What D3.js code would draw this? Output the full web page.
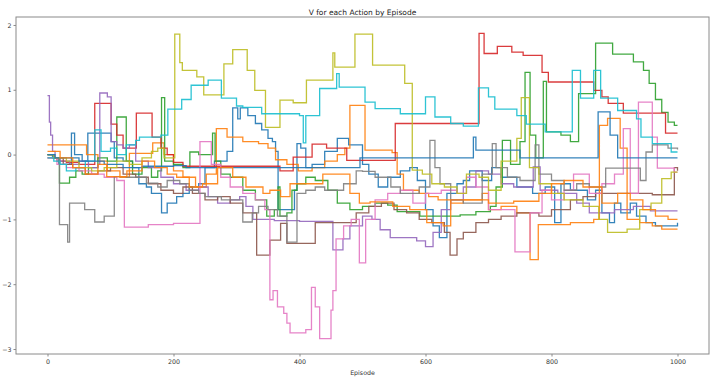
<!DOCTYPE html>
<html>
<head>
<meta charset="utf-8">
<script src="https://cdn.jsdelivr.net/npm/d3@7"></script>
<style>
  html, body { margin: 0; padding: 0; background: #fff; }
  svg { display: block; }
</style>
</head>
<body>
<svg id="chart" width="720" height="380"></svg>
<script>
// ---- data: [episode, V] breakpoints (value holds until next breakpoint) ----
const title = "V for each Action by Episode";
const xLabel = "Episode";
const xTicks = [0, 200, 400, 600, 800, 1000];
const yTicks = [-3, -2, -1, 0, 1, 2];

const actionBlue = [[0,0.0],[8,-0.05],[18,-0.15],[38,0.33],[43,0.0],[55,-0.1],[64,0.33],[101,0.2],[106,-0.05],[120,-0.1],[135,-0.2],[145,-0.45],[157,-0.5],[165,-0.6],[181,-0.9],[190,-0.75],[205,-0.65],[215,-0.6],[225,-0.5],[240,-0.45],[250,-0.2],[265,-0.1],[285,0.05],[294,0.72],[302,0.55],[306,0.72],[318,0.6],[330,0.48],[340,0.38],[350,0.25],[357,0.2],[362,0.05],[366,-0.85],[380,-0.85],[392,-0.55],[396,0.17],[402,0.1],[410,-0.2],[420,-0.15],[440,0.05],[460,0.25],[478,0.15],[500,-0.15],[510,-0.3],[525,-0.5],[540,-0.35],[560,-0.25],[575,-0.2],[587,-0.4],[600,-0.85],[612,-1.1],[622,-1.28],[634,-0.6],[650,-0.45],[660,-0.4],[670,-0.25],[690,-0.4],[705,-0.2],[720,-0.35],[745,-0.5],[770,-0.6],[790,-0.5],[805,-1.05],[815,-0.45],[830,-0.55],[857,-0.7],[870,-0.55],[880,-0.9],[892,-1.05],[900,-0.75],[910,-0.9],[925,-0.75],[935,-0.95],[950,-1.05],[965,-1.1],[1000,-1.05]];
const actionOrange = [[0,0.15],[62,0.0],[80,-0.1],[95,-0.25],[115,-0.35],[130,0.02],[167,0.18],[185,0.0],[200,-0.25],[215,-0.35],[235,-0.5],[252,-0.3],[268,0.4],[285,0.27],[310,0.2],[335,0.17],[350,0.1],[362,-0.08],[380,-0.15],[398,-0.25],[420,-0.2],[440,-0.1],[460,0.0],[472,0.1],[480,0.76],[504,0.07],[547,0.03],[555,-0.3],[565,-0.55],[590,-0.6],[605,-0.65],[620,-0.7],[640,-0.75],[660,-0.7],[690,-0.6],[700,-0.85],[720,-0.8],[745,-0.9],[766,-1.62],[779,-1.08],[830,-1.05],[867,-1.0],[876,0.45],[889,0.56],[909,0.1],[920,-1.0],[940,-1.05],[960,-1.1],[975,-1.15],[1000,-1.15]];
const actionGreen = [[0,0.0],[10,-0.05],[19,-0.44],[35,-0.35],[45,-0.25],[55,-0.3],[65,-0.2],[80,-0.05],[95,-0.1],[110,0.58],[125,-0.1],[135,-0.3],[150,-0.2],[165,-0.35],[175,-0.25],[181,0.88],[186,-0.1],[200,-0.15],[215,-0.2],[226,0.04],[240,0.0],[262,0.33],[266,-0.1],[275,-0.3],[290,-0.35],[310,-0.55],[330,-0.7],[348,-0.95],[360,-0.85],[366,-0.5],[369,-0.95],[380,-0.9],[388,-0.55],[396,-0.45],[410,-0.35],[425,-0.4],[445,-0.55],[460,-0.75],[480,-0.85],[500,-0.8],[520,-0.75],[540,-0.78],[555,-0.88],[591,-0.95],[655,-0.93],[680,-0.88],[703,-0.8],[712,-0.5],[722,0.22],[735,-0.15],[750,0.2],[758,1.27],[766,0.3],[775,-0.05],[787,1.13],[792,0.35],[815,0.3],[830,0.2],[843,0.94],[870,1.72],[897,1.55],[930,1.43],[946,1.3],[955,1.1],[965,0.85],[975,0.65],[985,0.5],[995,0.45],[1000,0.45]];
const actionRed = [[0,-0.05],[15,-0.1],[30,-0.12],[50,-0.15],[75,0.79],[101,0.47],[110,0.3],[120,0.1],[141,0.64],[166,0.27],[180,0.1],[190,0.0],[200,-0.12],[215,-0.18],[369,-0.25],[390,-0.04],[420,0.16],[443,0.1],[475,-0.09],[552,0.48],[685,1.87],[693,1.56],[714,1.67],[737,1.58],[755,1.53],[785,1.27],[795,1.12],[867,0.99],[880,0.89],[890,0.79],[914,0.64],[981,0.33],[1000,0.33]];
const actionPurple = [[0,0.91],[3,0.5],[5,0.3],[8,0.05],[12,-0.05],[20,-0.1],[35,-0.15],[50,-0.1],[65,-0.2],[80,-0.15],[83,0.95],[95,0.89],[101,0.2],[110,0.15],[120,0.1],[130,0.15],[140,-0.1],[160,-0.2],[180,-0.35],[200,-0.45],[220,-0.55],[240,-0.5],[255,-0.65],[270,-0.75],[290,-0.7],[305,-0.65],[315,-0.8],[326,-1.0],[360,-1.02],[400,-1.03],[453,-1.47],[469,-1.3],[480,-1.1],[500,-0.95],[515,-1.0],[528,-1.16],[544,-1.28],[586,-1.33],[600,-1.42],[612,-1.2],[625,-0.85],[640,-0.7],[660,-0.5],[680,-0.25],[700,-0.3],[720,-0.45],[740,-0.5],[771,-0.19],[782,-0.55],[810,-0.6],[840,-0.75],[860,-0.9],[900,-0.85],[930,-0.8],[957,-0.87],[1000,-0.87]];
const actionBrown = [[0,0.0],[10,-0.05],[25,-0.15],[40,-0.2],[60,-0.3],[80,-0.25],[100,-0.2],[120,-0.3],[140,-0.35],[160,-0.45],[180,-0.55],[200,-0.6],[215,-0.5],[230,-0.6],[250,-0.7],[270,-0.65],[290,-0.75],[310,-0.9],[332,-1.55],[353,-1.32],[370,-1.06],[380,-1.37],[417,-1.37],[425,-1.05],[480,-1.05],[490,-0.9],[510,-0.8],[530,-0.75],[550,-0.85],[570,-0.9],[590,-1.0],[610,-1.05],[630,-1.2],[639,-1.55],[650,-1.3],[660,-1.2],[680,-1.05],[700,-1.0],[720,-0.95],[745,-0.9],[780,-0.95],[800,-0.85],[830,-0.7],[850,-0.65],[870,-0.6],[960,-0.62],[995,-0.2],[1000,-0.25]];
const actionPink = [[0,-0.05],[15,-0.15],[30,-0.2],[50,-0.25],[70,-0.3],[90,-0.35],[110,-0.4],[122,-1.12],[160,-1.08],[200,-1.06],[242,0.2],[260,-0.15],[275,-0.35],[290,-0.5],[310,-0.6],[330,-0.7],[345,-0.85],[353,-2.24],[358,-2.1],[365,-2.35],[375,-2.45],[380,-2.6],[385,-2.75],[410,-2.7],[419,-2.05],[425,-2.35],[432,-2.84],[450,-2.4],[453,-2.1],[458,-1.3],[470,-1.1],[482,-1.0],[495,-1.67],[505,-1.0],[520,-0.7],[540,-0.6],[560,-0.55],[580,-0.75],[600,-0.6],[625,-0.55],[650,-0.6],[665,-0.35],[680,-0.5],[700,-0.85],[720,-0.85],[742,-1.5],[766,-0.9],[785,-0.55],[800,-0.7],[820,-0.55],[835,-0.3],[860,-0.6],[880,-0.45],[900,-0.3],[914,0.4],[925,-0.6],[938,0.81],[960,0.27],[968,-0.21],[995,-0.27],[1000,-0.27]];
const actionGray = [[0,0.0],[10,-0.05],[19,-1.08],[32,-1.35],[35,-0.75],[59,-0.85],[75,-1.04],[90,-0.95],[106,-0.34],[125,-0.35],[157,-0.44],[175,-0.5],[190,-0.4],[210,-0.45],[225,-0.55],[240,-0.6],[250,-0.65],[276,-0.7],[310,-1.04],[325,-0.9],[335,-0.8],[350,-0.85],[365,-0.95],[380,-1.35],[396,-0.6],[410,-0.55],[425,-0.5],[440,-0.55],[470,-0.45],[490,-0.25],[500,-0.26],[520,-0.35],[545,-0.5],[560,-0.6],[590,-0.5],[607,0.22],[615,-0.2],[623,-0.45],[640,-0.7],[660,-0.75],[690,-0.3],[706,0.17],[712,-0.2],[730,-0.35],[750,-0.4],[774,0.15],[780,-0.3],[800,-0.4],[820,-0.55],[840,-0.45],[860,-0.5],[886,-0.21],[941,-0.4],[950,0.04],[960,0.15],[985,0.1],[1000,0.08]];
const actionOlive = [[0,0.0],[10,-0.05],[30,-0.1],[50,-0.2],[70,-0.25],[90,-0.2],[110,-0.1],[130,-0.15],[150,-0.05],[165,0.05],[175,0.1],[185,-0.05],[202,1.86],[210,1.42],[214,1.3],[237,1.2],[248,0.92],[280,1.4],[294,1.62],[317,1.3],[329,0.99],[346,0.42],[369,0.84],[390,0.8],[411,1.15],[453,1.57],[456,1.35],[488,1.86],[516,1.38],[567,1.1],[579,-0.24],[595,-0.3],[610,-0.45],[630,-0.5],[650,-0.6],[665,-0.3],[685,-0.35],[700,-0.55],[720,-0.1],[745,0.25],[752,0.88],[765,-0.2],[780,-0.45],[800,-0.6],[820,-0.7],[850,-0.8],[875,-1.0],[889,-1.2],[920,-1.15],[940,-0.85],[958,-0.75],[975,-0.37],[990,-0.27],[1000,-0.27]];
const actionCyan = [[0,-0.05],[10,-0.1],[20,-0.15],[30,-0.25],[45,-0.2],[60,-0.1],[75,0.38],[85,0.05],[100,0.1],[110,0.0],[125,0.15],[140,0.22],[146,0.27],[180,0.3],[191,0.7],[213,0.85],[228,1.07],[255,1.15],[276,0.87],[300,0.75],[310,0.73],[340,0.63],[400,0.6],[406,0.18],[410,0.6],[432,1.02],[459,1.25],[463,1.04],[504,0.81],[520,0.71],[560,0.63],[600,0.89],[615,0.58],[640,0.48],[660,0.44],[684,1.03],[700,0.89],[710,0.7],[745,0.6],[760,0.47],[790,0.35],[833,1.3],[846,0.87],[867,1.3],[878,0.87],[905,0.68],[935,0.55],[942,0.27],[960,0.17],[990,0.04],[1000,0.04]];
const actionBlue2 = [[0,0.0],[12,-0.05],[50,-0.1],[90,-0.15],[120,-0.2],[150,-0.18],[200,-0.17],[220,-0.2],[490,-0.2],[496,-0.05],[676,0.27],[680,0.07],[750,-0.05],[874,0.66],[893,0.3],[905,-0.05],[1000,-0.05]];
const actionOrange2 = [[0,0.05],[20,-0.05],[40,-0.2],[60,-0.3],[80,-0.15],[94,-0.34],[126,-0.25],[150,-0.1],[170,-0.2],[190,-0.3],[205,-0.35],[225,-0.5],[246,-0.45],[270,-0.2],[294,-0.35],[315,-0.5],[342,-0.6],[353,-0.55],[370,-0.65],[385,-0.45],[437,-0.3],[480,-0.6],[495,-0.75],[512,-0.73],[548,-0.8],[575,-0.85],[602,-1.05],[628,-1.1],[640,-0.7],[670,-0.7],[700,-0.75],[740,-0.72],[780,-0.6],[800,-0.45],[820,-0.4],[850,-0.5],[880,-0.75],[905,-0.6],[925,-0.7],[945,-0.85],[965,-0.95],[985,-1.0],[1000,-1.0]];

const seriesList = [actionBlue, actionOrange, actionGreen, actionRed, actionPurple, actionBrown, actionPink, actionGray, actionOlive, actionCyan, actionBlue2, actionOrange2];
const palette = ["#1f77b4","#ff7f0e","#2ca02c","#d62728","#9467bd","#8c564b","#e377c2","#7f7f7f","#bcbd22","#17becf"];

// ---- layout ----
const svg = d3.select("#chart");
const L = 16, R = 709, T = 17, B = 354;
const x = d3.scaleLinear().domain([-50, 1050]).range([L, R]);
const y = d3.scaleLinear().domain([-3.077, 2.123]).range([B, T]);

const line = d3.line().x(d => x(d[0])).y(d => y(d[1])).curve(d3.curveStepAfter);

const plot = svg.append("g");
seriesList.forEach((s, i) => {
  plot.append("path")
    .attr("d", line(s))
    .attr("fill", "none")
    .attr("stroke", palette[i % palette.length])
    .attr("stroke-width", 1.3)
    .attr("opacity", 0.9);
});

// frame
svg.append("rect").attr("x", L).attr("y", T).attr("width", R - L).attr("height", B - T)
  .attr("fill", "none").attr("stroke", "#8a8a8a").attr("stroke-width", 1);

// axes
const xAxis = d3.axisBottom(x).tickValues(xTicks).tickSize(2.5).tickPadding(3).tickFormat(d3.format("d"));
const yAxis = d3.axisLeft(y).tickValues(yTicks).tickSize(2.5).tickPadding(2)
  .tickFormat(d => d < 0 ? "\u2212" + Math.abs(d) : String(d));
const gx = svg.append("g").attr("transform", `translate(0,${B})`).call(xAxis);
const gy = svg.append("g").attr("transform", `translate(${L},0)`).call(yAxis);
[gx, gy].forEach(g => {
  g.attr("fill", "#333").attr("color", "#333");
  g.select(".domain").remove();
  g.selectAll(".tick line").attr("stroke", "#8a8a8a");
  g.selectAll(".tick text").attr("fill", "#333")
    .attr("font-size", "6.3px").attr("font-family", "DejaVu Sans, sans-serif");
});

svg.append("text").attr("x", (L + R) / 2).attr("y", 14.5).attr("text-anchor", "middle")
  .attr("fill", "#222").attr("font-family", "DejaVu Sans, sans-serif")
  .attr("font-size", "7.5px").text(title);
svg.append("text").attr("x", (L + R) / 2).attr("y", 374.5).attr("text-anchor", "middle")
  .attr("fill", "#333").attr("font-family", "DejaVu Sans, sans-serif")
  .attr("font-size", "6.3px").text(xLabel);
</script>
</body>
</html>
